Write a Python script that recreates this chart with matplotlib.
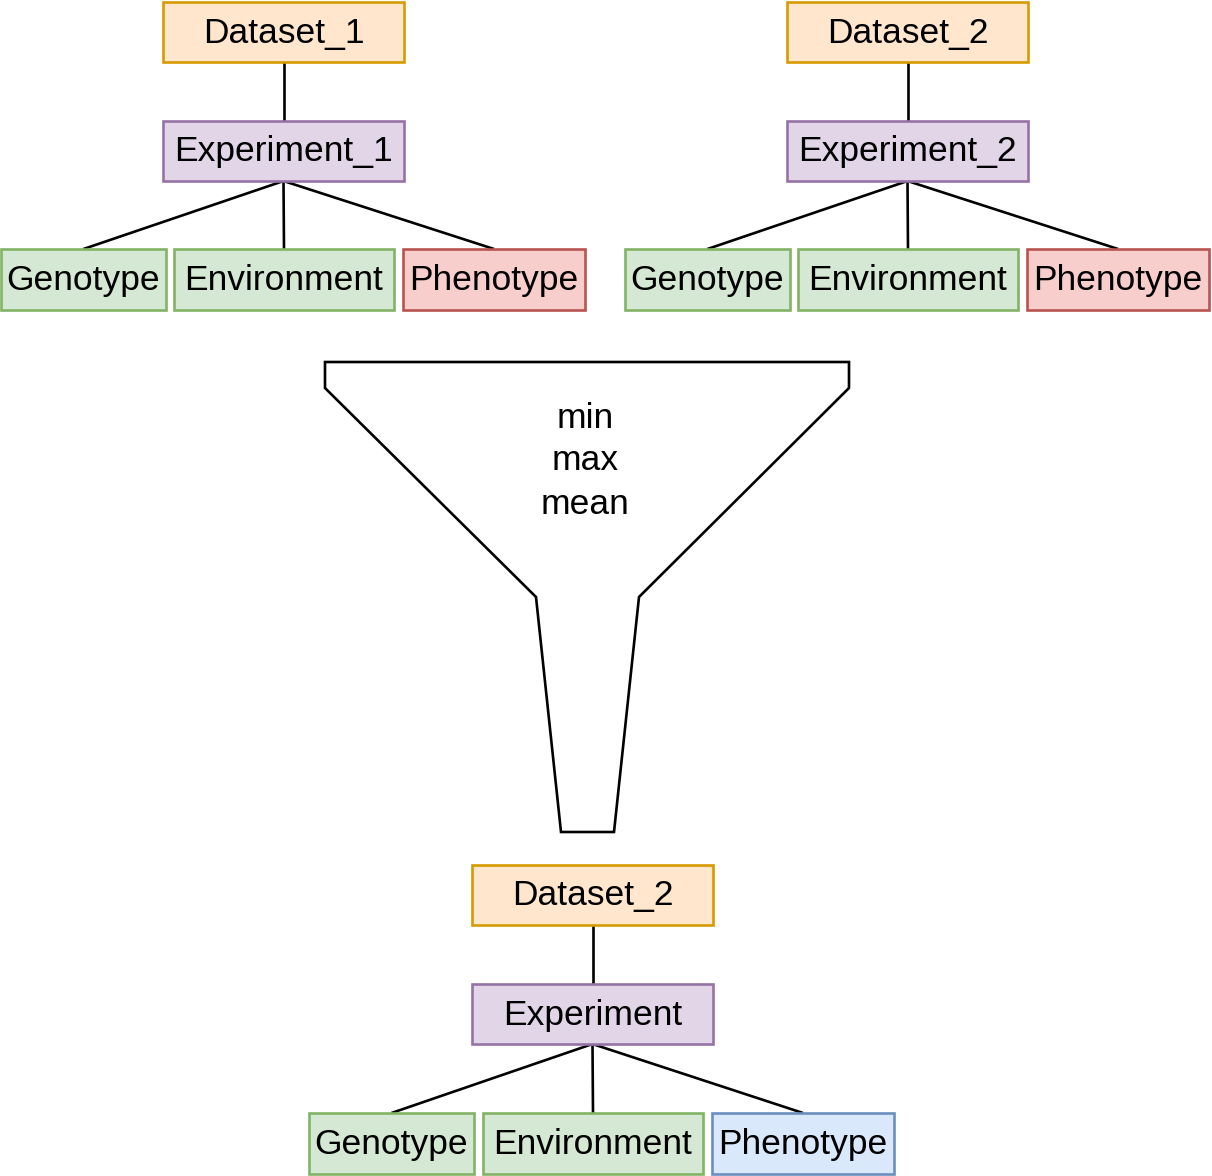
import matplotlib.pyplot as plt
from matplotlib.patches import Rectangle, Polygon

plt.rcParams["font.family"] = ["Liberation Sans", "DejaVu Sans"]

# node labels per tree
dataset_labels = ["Dataset_1", "Dataset_2", "Dataset_2"]
experiment_labels = ["Experiment_1", "Experiment_2", "Experiment"]
leaf_labels = ["Genotype", "Environment", "Phenotype"]
funnel_text = ["min", "max", "mean"]

# drawio-like palette
ORANGE = ("#ffe6cc", "#d79b00")
PURPLE = ("#e1d5e7", "#9673a6")
GREEN = ("#d5e8d4", "#82b366")
RED = ("#f8cecc", "#b85450")
BLUE = ("#dae8fc", "#6c8ebf")

W, H = 1212, 1176
FS = 25.5
LW = 1.9

fig = plt.figure(figsize=(W / 100, H / 100), dpi=100)
ax = fig.add_axes([0, 0, 1, 1])
ax.set_xlim(0, W)
ax.set_ylim(H, 0)
ax.axis("off")


def box(x0, y0, x1, y1, text, colors):
    ax.add_patch(Rectangle((x0, y0), x1 - x0, y1 - y0, facecolor=colors[0],
                           edgecolor=colors[1], lw=LW, zorder=2))
    ax.text((x0 + x1) / 2, (y0 + y1) / 2 + 1, text, ha="center", va="center",
            fontsize=FS, color="black", zorder=3)
    return (x0 + x1) / 2, y0, y1


def line(p, q):
    ax.plot([p[0], q[0]], [p[1], q[1]], color="black", lw=LW, zorder=1,
            solid_capstyle="butt")


def tree(top_x0, top_y0, leaf_xs, leaf_y0, ds, exp, pheno_colors):
    cx, _, d_bot = box(top_x0, top_y0, top_x0 + 241, top_y0 + 60, ds, ORANGE)
    ex, e_top, e_bot = box(top_x0, top_y0 + 119, top_x0 + 241, top_y0 + 179, exp, PURPLE)
    line((cx, d_bot), (ex, e_top))
    leaf_colors = [GREEN, GREEN, pheno_colors]
    for (x0, x1), lab, col in zip(leaf_xs, leaf_labels, leaf_colors):
        lx, l_top, _ = box(x0, leaf_y0, x1, leaf_y0 + 61, lab, col)
        line((ex, e_bot), (lx, l_top))


tree(163, 2, [(1, 166), (174, 394), (403, 585)], 249,
     dataset_labels[0], experiment_labels[0], RED)
tree(787, 2, [(625, 790), (798, 1018), (1027, 1209)], 249,
     dataset_labels[1], experiment_labels[1], RED)
tree(472, 865, [(309, 474), (483, 703), (712, 894)], 1113,
     dataset_labels[2], experiment_labels[2], BLUE)

# funnel
funnel = [(325, 362), (849, 362), (849, 388), (639, 597), (614, 832),
          (561, 832), (536, 597), (325, 388)]
ax.add_patch(Polygon(funnel, closed=True, facecolor="white", edgecolor="black",
                     lw=LW, zorder=1, joinstyle="miter"))
for y, t in zip([418, 461, 505], funnel_text):
    ax.text(585, y, t, ha="center", va="center", fontsize=FS, color="black")

fig.savefig("out.png", dpi=100)
